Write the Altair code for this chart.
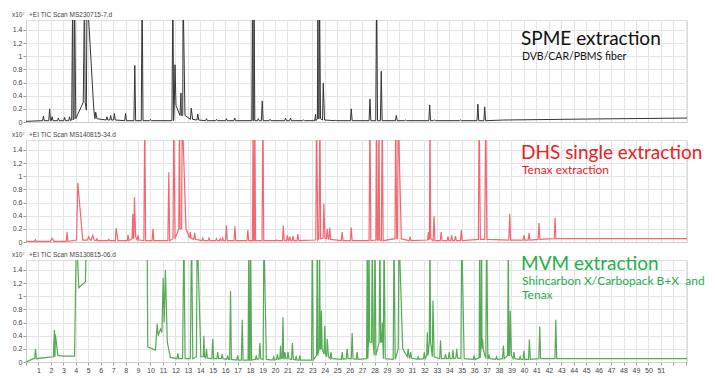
import altair as alt
import pandas as pd

OFF = 2.0  # off-scale (clipped) peak apex

# Peaks: (time, height) or (time, height, base) or (time, height, left_w, right_w, base)
spme_peaks = [
    (0.0, 0.01, 0, 0, 0.01), (1.4, 0.09), (1.9, 0.20), (2.1, 0.08), (2.6, 0.06), (3.1, 0.07),
    (3.5, 0.08), (3.75, OFF, 0.08, 0.04, 0.03), (3.9, OFF, 0.04, 0.1, 0.05),
    (4.7, OFF, 0.1, 0.05, 0.3), (4.9, OFF, 0.05, 0.55, 0.18), (5.6, 0.15, 0.06, 0.1, 0.05),
    (6.5, 0.08, 0.03), (6.8, 0.10, 0.03), (7.1, 0.13, 0.03), (8.0, 0.13), (8.74, 0.86),
    (9.33, OFF), (10.0, 0.04), (11.8, OFF, 0.08, 0.06, 0.02), (11.97, 0.87, 0.06, 0.08, 0.25),
    (12.45, 0.44, 0.08, 0.03, 0.1), (12.62, OFF, 0.03, 0.15, 0.1), (13.27, 0.21, 0.06, 0.12, 0.04),
    (13.8, 0.12, 0.03), (14.5, 0.05), (15.3, 0.04), (16.1, 0.05), (16.77, 0.06),
    (18.2, OFF, 0.06, 0.03, 0.02), (18.32, OFF, 0.03, 0.06, 0.02), (18.66, 0.05), (18.98, 0.32),
    (19.6, 0.04), (20.85, 0.06), (21.25, 0.06), (22.3, 0.03), (23.26, 0.12, 0.06, 0.04, 0.02),
    (23.45, OFF, 0.04, 0.03, 0.05), (23.58, OFF, 0.03, 0.08, 0.05), (23.88, 0.59, 0.06, 0.1, 0.03),
    (24.9, 0.03), (26.13, 0.20), (27.63, 0.35), (28.17, OFF), (28.54, 0.77), (29.75, 0.10),
    (30.5, 0.03), (32.43, 0.26), (32.8, 0.03), (34.9, 0.03), (36.3, 0.27), (36.85, 0.23),
    (38.4, 0.03, 0, 0, 0.03), (45.0, 0.045, 0, 0, 0.045), (53.1, 0.06, 0, 0, 0.06),
]

dhs_peaks = [
    (0.0, 0.01, 0, 0, 0.01), (0.76, 0.035, 0.01), (2.1, 0.055, 0.15, 0.15, 0.01), (3.3, 0.15, 0.01),
    (4.16, 0.90, 0.1, 0.4, 0.03), (5.04, 0.08, 0.12, 0.12, 0.03), (5.36, 0.10, 0.12, 0.12, 0.03),
    (5.7, 0.05), (6.65, 0.04), (7.24, 0.21, 0.06, 0.15, 0.02), (8.2, 0.11), (8.58, 0.43, 0.06, 0.04, 0.05),
    (8.71, 0.68, 0.04, 0.1, 0.08), (9.0, 0.10, 0.03), (9.54, OFF), (10.2, 0.20), (11.47, 1.06),
    (11.87, OFF, 0.06, 0.1, 0.05), (12.33, OFF, 0.06, 0.05, 0.2), (12.55, OFF, 0.05, 0.3, 0.2),
    (13.2, 0.15, 0.06, 0.06, 0.06), (13.55, 0.14, 0.04), (14.2, 0.06), (14.7, 0.06), (15.3, 0.05),
    (15.6, 0.05), (15.8, 0.06), (16.1, 0.25), (16.78, 0.24), (17.82, 0.18), (18.25, OFF, 0.06, 0.04, 0.02),
    (18.38, OFF, 0.04, 0.06, 0.02), (19.03, OFF), (20.13, 0.03), (20.67, 0.25), (21.0, 0.10),
    (21.2, 0.08), (21.45, 0.09), (21.84, 0.12), (23.34, OFF, 0.06, 0.1, 0.03), (23.61, OFF, 0.08, 0.06, 0.05),
    (23.93, 0.58, 0.06, 0.08, 0.06), (24.2, 0.20, 0.05), (24.4, 0.22, 0.04), (25.4, 0.15), (26.13, 0.22),
    (27.63, OFF), (28.17, OFF, 0.06, 0.05, 0.03), (28.35, OFF, 0.05, 0.06, 0.03), (28.62, OFF),
    (29.7, OFF, 0.06, 0.08, 0.05), (29.9, OFF, 0.05, 0.25, 0.05), (30.86, 0.08), (32.32, 0.15, 0.06, 0.04, 0.03),
    (32.45, OFF, 0.04, 0.06, 0.05), (32.78, 0.39), (33.35, 0.15), (33.9, 0.08), (34.2, 0.10),
    (34.5, 0.09), (34.97, 0.18), (36.4, OFF, 0.06, 0.1, 0.04), (36.93, OFF, 0.08, 0.1, 0.04),
    (38.86, 0.43, 0.03), (40.0, 0.10, 0.03), (40.41, 0.14, 0.03), (41.21, 0.29, 0.04), (42.5, 0.37, 0.05),
    (53.1, 0.05, 0, 0, 0.05),
]

mvm_peaks = [
    (0.0, 0.0, 0, 0, 0.0), (0.6, 0.05, 0, 0, 0.05), (0.76, 0.20, 0.06, 0.08, 0.05),
    (1.9, 0.075, 0, 0, 0.075), (2.28, 0.49, 0.08, 0.03, 0.08), (2.36, 0.42, 0.03, 0.2, 0.1),
    (3.0, 0.09, 0, 0, 0.09), (3.9, 0.09, 0, 0, 0.09), (4.05, OFF, 0, 0, OFF),
    (4.24, 1.13, 0, 0, 1.13), (4.77, 1.22, 0, 0, 1.22), (4.86, OFF, 0, 0, OFF),
    (9.73, OFF, 0, 0, OFF), (9.78, 0.23, 0, 0, 0.23), (10.4, 0.18, 0, 0, 0.18),
    (10.54, 0.58, 0, 0, 0.58), (10.62, 0.40, 0, 0, 0.40), (10.8, 0.50, 0, 0, 0.50),
    (10.92, 0.45, 0, 0, 0.45), (11.02, 1.28, 0, 0, 1.28), (11.1, 0.60, 0, 0, 0.60),
    (11.2, 1.40, 0, 0, 1.40), (11.35, 0.30, 0, 0, 0.30), (11.6, 0.07, 0, 0, 0.07),
    (12.2, 0.13, 0.05), (12.68, OFF, 0.1, 0.1, 0.05), (13.3, OFF, 0.1, 0.1, 0.05),
    (13.75, OFF, 0.06, 0.3, 0.08), (14.29, 0.40, 0.05, 0.05, 0.08), (14.5, 0.20, 0.06),
    (15.0, 0.35, 0.05), (15.4, 0.15, 0.05), (15.76, 0.12, 0.05), (16.2, 0.10, 0.04),
    (16.43, 1.08, 0.04), (17.0, 0.10, 0.03), (17.37, 0.64, 0.03), (17.9, OFF, 0.06, 0.04, 0.03),
    (18.04, OFF, 0.04, 0.08, 0.03), (18.5, 0.10, 0.04), (18.79, 0.29, 0.05), (19.11, OFF, 0.06, 0.2, 0.04),
    (19.9, 0.08, 0.03), (20.2, 0.12, 0.04), (20.45, 0.25, 0.06, 0.05, 0.05), (20.64, 0.68, 0.05, 0.06, 0.06),
    (20.8, 0.15, 0.05), (21.05, 0.15, 0.05), (21.4, 0.29, 0.04), (21.7, 0.08, 0.03), (22.0, 0.10, 0.03),
    (23.0, OFF, 0.06, 0.08, 0.03), (23.4, OFF, 0.06, 0.04, 0.1), (23.58, OFF, 0.04, 0.06, 0.2),
    (23.73, 0.78, 0.04, 0.06, 0.2), (24.0, 0.55, 0.06, 0.06, 0.12), (24.2, 0.35, 0.05, 0.1, 0.08),
    (24.5, 0.15, 0.05), (25.4, 0.15, 0.04), (25.8, 0.20, 0.05), (26.2, 0.44, 0.05), (26.6, 0.15, 0.04),
    (27.42, OFF, 0.06, 0.04, 0.05), (27.55, OFF, 0.04, 0.06, 0.3), (27.82, OFF, 0.06, 0.06, 0.3),
    (28.03, OFF, 0.06, 0.08, 0.1), (28.43, OFF, 0.06, 0.06, 0.3), (28.62, 0.60, 0.05, 0.05, 0.3),
    (28.76, OFF, 0.05, 0.1, 0.05), (29.56, OFF, 0.06, 0.1, 0.04), (29.96, OFF, 0.06, 0.3, 0.2),
    (30.7, 0.20, 0.08), (30.9, 0.15, 0.06), (31.5, 0.08, 0.04), (32.0, 0.15, 0.05),
    (32.24, 0.45, 0.05, 0.05, 0.1), (32.45, OFF, 0.05, 0.05, 0.3), (32.69, 0.93, 0.05, 0.1, 0.08),
    (33.3, 0.33, 0.05), (33.7, 0.12, 0.05), (34.0, 0.15, 0.05), (34.3, 0.18, 0.05), (34.6, 0.20, 0.06),
    (35.0, OFF, 0.06, 0.2, 0.05), (36.0, 0.10, 0.04), (36.45, OFF, 0.05, 0.04, 0.06),
    (36.6, OFF, 0.04, 0.03, 0.3), (36.68, 0.35, 0.03, 0.05, 0.2), (37.0, OFF, 0.06, 0.1, 0.05),
    (37.2, 0.10, 0.05), (37.8, 0.08, 0.04), (38.35, 0.25, 0.05), (38.75, OFF, 0.06, 0.04, 0.1),
    (38.9, 0.78, 0.04, 0.1, 0.1), (39.2, 0.15, 0.05), (39.7, 0.08, 0.04), (40.0, 0.17, 0.04),
    (40.44, 0.34, 0.04), (41.27, 0.54, 0.05), (42.56, 0.64, 0.05), (53.1, 0.05, 0, 0, 0.05),
]

headers = ["+EI TIC Scan MS230715-7.d", "+EI TIC Scan MS140815-34.d", "+EI TIC Scan MS130815-06.d"]
titles = ["SPME extraction", "DHS single extraction", "MVM extraction"]
subtitles = [["DVB/CAR/PBMS fiber"], ["Tenax extraction"],
             ["Shincarbon X/Carbopack B+X\u00a0\u00a0and", "Tenax"]]
trace_colors = ["#333333", "#f36870", "#55ab55"]
trace_widths = [1.0, 1.2, 1.2]
text_colors = ["#111111", "#ec1c24", "#27ae4f"]
y_ticks = [0, 0.2, 0.4, 0.6, 0.8, 1.0, 1.2, 1.4]
x_ticks = list(range(0, 54))

W, H = 661, 102
X_MAX, Y_MAX = 53.1, 1.55


def build(peaks, base_default=0.02, w_default=0.07):
    ts, vs = [], []
    for p in peaks:
        if len(p) == 2:
            t, h = p; wl = wr = w_default; b = base_default
        elif len(p) == 3:
            t, h, b = p; wl = wr = w_default
        else:
            t, h, wl, wr, b = p
        if wl == 0 and wr == 0:
            ts.append(t); vs.append(h)
        else:
            ts += [t - wl, t, t + wr]
            vs += [b, h, b]
    return pd.DataFrame({"t": ts, "v": vs, "i": list(range(len(ts)))})


def text_layer(label, x, y, size, color, weight="normal", font="Lato"):
    return alt.Chart(pd.DataFrame({"label": [label]})).mark_text(
        align="left", baseline="alphabetic", fontSize=size, color=color,
        fontWeight=weight, font=font,
    ).encode(x=alt.value(x), y=alt.value(y), text="label:N")


def panel(k, df, show_x):
    if show_x:
        xaxis = alt.Axis(values=x_ticks, title=None, grid=True, labelFontSize=7, tickSize=3,
                         labelPadding=1, labelFont="Liberation Sans", labelColor="#444",
                         labelExpr="datum.value >= 1 && datum.value <= 51 ? datum.label : ''")
    else:
        xaxis = alt.Axis(values=x_ticks, title=None, grid=True, labels=False, ticks=False)
    line = alt.Chart(df).mark_line(color=trace_colors[k], strokeWidth=trace_widths[k], clip=True).encode(
        x=alt.X("t:Q", scale=alt.Scale(domain=[0, X_MAX], nice=False, zero=False), axis=xaxis),
        y=alt.Y("v:Q", scale=alt.Scale(domain=[0, Y_MAX], nice=False),
                axis=alt.Axis(values=y_ticks, format=".1~f", title=None, labelFontSize=7,
                              tickSize=3, labelPadding=1, labelFont="Liberation Sans",
                              labelColor="#444")),
        order="i:Q",
    )
    layers = [line,
              text_layer("x10\u2077", -14, -3, 6.5, "#444", font="Liberation Sans"),
              text_layer(headers[k], 3, -3, 6.5, "#444", font="Liberation Sans")]
    ty = [25, 19, 10][k]
    layers.append(text_layer(titles[k], 495, ty, 19, text_colors[k]))
    sub_size = 10.5 if k == 0 else 12
    for j, s in enumerate(subtitles[k]):
        layers.append(text_layer(s, 496, ty + 15 + 14 * j, sub_size, text_colors[k]))
    return alt.layer(*layers).properties(width=W, height=H)


p1 = panel(0, build(spme_peaks, 0.02), False)
p2 = panel(1, build(dhs_peaks, 0.02), False)
p3 = panel(2, build(mvm_peaks, 0.04), True)

chart = alt.vconcat(p1, p2, p3, spacing=18).properties(
    bounds="flush", padding={"left": 3, "top": 3, "right": 0, "bottom": 0}
).configure_view(stroke="#dddddd").configure_axis(
    gridColor="#e4e4e4", domainColor="#cccccc", tickColor="#999999"
)

chart.save("out.html", embed_options={"renderer": "svg", "actions": False})
